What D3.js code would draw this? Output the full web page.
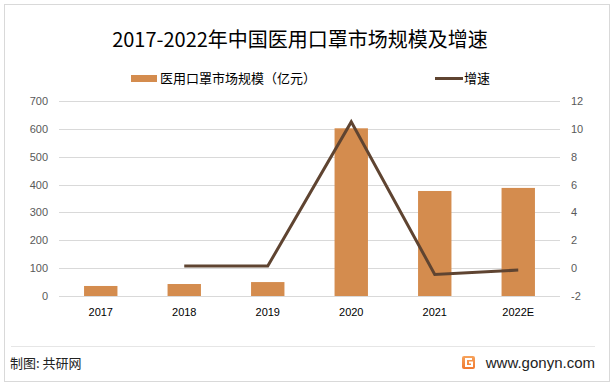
<!DOCTYPE html>
<html>
<head>
<meta charset="utf-8">
<script src="https://cdn.jsdelivr.net/npm/d3@7"></script>
<style>
  body { margin: 0; background: #fff; }
  svg { display: block; font-family: "Noto Sans CJK SC", "Noto Sans", sans-serif; }
</style>
</head>
<body>
<svg id="chart" width="614" height="385"></svg>
<script>
// data
var years = ["2017", "2018", "2019", "2020", "2021", "2022E"];
var marketSize = [36, 43, 50, 602, 377, 388];          // 亿元
var growthYears = ["2018", "2019", "2020", "2021", "2022E"];
var growth = [0.15, 0.15, 10.5, -0.45, -0.14];
var leftTicks = [0, 100, 200, 300, 400, 500, 600, 700];
var rightTicks = [-2, 0, 2, 4, 6, 8, 10, 12];

var barColor = "#d48c4e", lineColor = "#5f4431";

var svg = d3.select("#chart");

// frame
svg.append("rect")
    .attr("x", 4.5).attr("y", 4.5)
    .attr("width", 605).attr("height", 377)
    .attr("fill", "#fff")
    .attr("stroke", "#d9d9d9");

var margin = {top: 101, left: 59, right: 54, bottom: 89},
    width = 614 - margin.left - margin.right,
    height = 385 - margin.top - margin.bottom;

var g = svg.append("g")
    .attr("transform", `translate(${margin.left},${margin.top})`);

var x = d3.scaleBand().domain(years).range([0, width]).paddingInner(0.6).paddingOuter(0.3);
var xc = d3.scaleBand().domain(years).range([0, width]);
var y = d3.scaleLinear().domain([0, 700]).range([height, 0]);
var y2 = d3.scaleLinear().domain([-2, 12]).range([height, 0]);

// gridlines
g.selectAll(".grid")
    .data(leftTicks)
    .enter().append("line")
    .attr("x1", 0).attr("x2", width)
    .attr("y1", d => Math.round(y(d)) + 0.5)
    .attr("y2", d => Math.round(y(d)) + 0.5)
    .attr("stroke", "#d9d9d9");

// left axis
var yAxis = g.append("g")
    .call(d3.axisLeft(y).tickValues(leftTicks).tickSize(0).tickPadding(11));
yAxis.select(".domain").remove();
yAxis.selectAll("text").attr("fill", "#595959").style("font-size", "11px")
    .style("font-family", "'Liberation Sans', sans-serif");

// right axis (plain hyphen for negatives, like the original)
var y2Axis = g.append("g")
    .attr("transform", `translate(${width},0)`)
    .call(d3.axisRight(y2).tickValues(rightTicks).tickFormat(d => String(d)).tickSize(0).tickPadding(11));
y2Axis.select(".domain").remove();
y2Axis.selectAll("text").attr("fill", "#595959").style("font-size", "11px")
    .style("font-family", "'Liberation Sans', sans-serif");

// x axis labels
var xAxis = g.append("g")
    .attr("transform", `translate(0,${height})`)
    .call(d3.axisBottom(xc).tickSize(0).tickPadding(12));
xAxis.select(".domain").remove();
xAxis.selectAll("text").attr("fill", "#000").style("font-size", "11px")
    .style("font-family", "'Liberation Sans', sans-serif");

// bars
g.selectAll(".bar")
    .data(years)
    .enter().append("rect")
    .attr("class", "bar")
    .attr("x", d => x(d))
    .attr("y", (d, i) => y(marketSize[i]))
    .attr("width", x.bandwidth())
    .attr("height", (d, i) => height - y(marketSize[i]))
    .attr("fill", barColor);

// growth line
var line = d3.line()
    .x((d, i) => xc(growthYears[i]) + xc.bandwidth() / 2)
    .y(d => y2(d));
g.append("path")
    .datum(growth)
    .attr("d", line)
    .attr("fill", "none")
    .attr("stroke", lineColor)
    .attr("stroke-width", 3);

// title
svg.append("text")
    .attr("x", 300).attr("y", 47)
    .attr("text-anchor", "middle")
    .style("font-size", "20px")
    .attr("fill", "#000")
    .text("2017-2022年中国医用口罩市场规模及增速");

// legend
var lg = svg.append("g").style("font-size", "13px");
lg.append("rect").attr("x", 131).attr("y", 75).attr("width", 26).attr("height", 7).attr("fill", barColor);
lg.append("text").attr("x", 160).attr("y", 83).attr("fill", "#000").text("医用口罩市场规模（亿元）");
lg.append("line").attr("x1", 435).attr("x2", 463).attr("y1", 78.5).attr("y2", 78.5)
    .attr("stroke", lineColor).attr("stroke-width", 3);
lg.append("text").attr("x", 464).attr("y", 83).attr("fill", "#000").text("增速");

// footer
svg.append("line")
    .attr("x1", 11).attr("x2", 595).attr("y1", 346.5).attr("y2", 346.5)
    .attr("stroke", "#e6e6e6");
svg.append("text")
    .attr("x", 10).attr("y", 368)
    .style("font-size", "13px")
    .attr("fill", "#222")
    .text("制图: 共研网");

var logo = svg.append("g").attr("transform", "translate(462,356)");
var grad = svg.append("defs").append("linearGradient").attr("id", "lg1")
    .attr("x1", 0).attr("y1", 0).attr("x2", 0).attr("y2", 1);
grad.append("stop").attr("offset", "0%").attr("stop-color", "#f7a35c");
grad.append("stop").attr("offset", "100%").attr("stop-color", "#f0782e");
logo.append("rect").attr("width", 13).attr("height", 13).attr("rx", 2).attr("fill", "url(#lg1)");
logo.append("path").attr("d", "M10,3 H4 V10 H10 V6.5 H7")
    .attr("fill", "none").attr("stroke", "#fff").attr("stroke-width", 2);

svg.append("text")
    .attr("x", 595).attr("y", 368)
    .attr("text-anchor", "end")
    .style("font-size", "15px")
    .style("font-family", "'Liberation Sans', sans-serif")
    .attr("fill", "#222")
    .text("www.gonyn.com");
</script>
</body>
</html>
